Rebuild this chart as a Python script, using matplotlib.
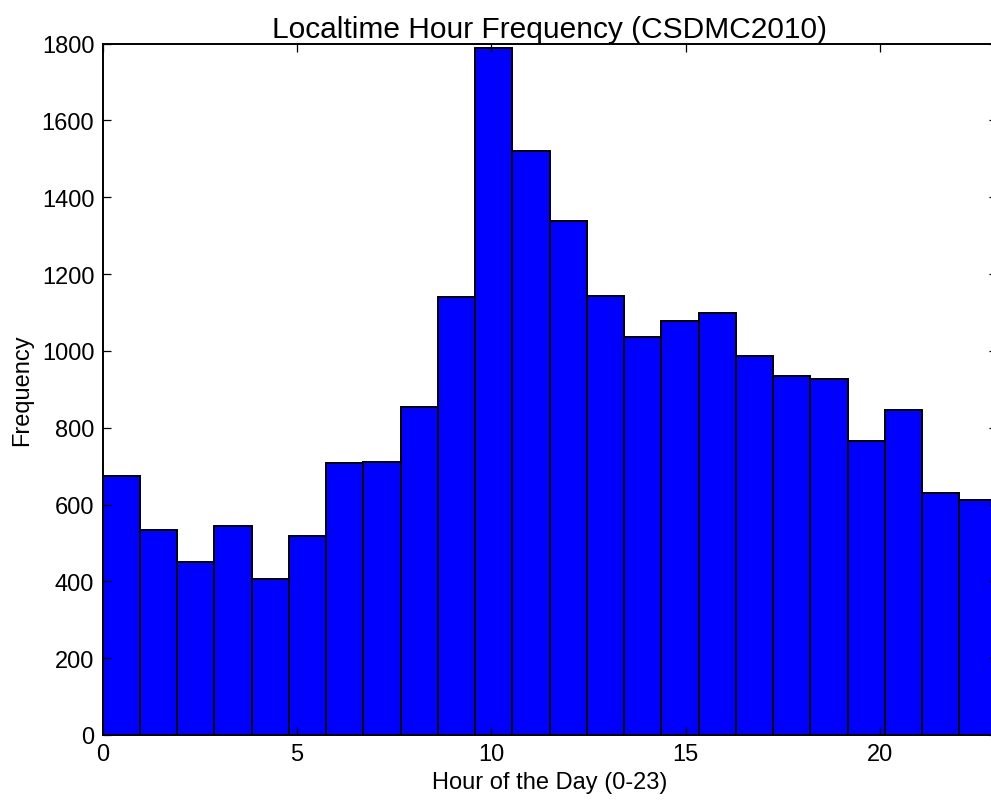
import numpy as np
import matplotlib
matplotlib.use("Agg")
import matplotlib.pyplot as plt

plt.rcParams["font.family"] = ["Liberation Sans", "DejaVu Sans"]

# counts per bin (24 bins spanning 0..23 hours)
counts = [674, 534, 451, 545, 406, 518, 708, 710, 854, 1140, 1789, 1520,
          1337, 1142, 1037, 1078, 1099, 987, 935, 927, 766, 845, 630, 612]
hour_min, hour_max = 0, 23
xticks = [0, 5, 10, 15, 20]
yticks = list(range(0, 2000, 200))

W, H = 991, 804
fig = plt.figure(figsize=(W / 100, H / 100), dpi=100)
ax = fig.add_axes([102.7 / W, (H - 736) / H, 894 / W, 691.4 / H])

edges = np.linspace(hour_min, hour_max, len(counts) + 1)
ax.bar(edges[:-1], counts, width=np.diff(edges), align="edge",
       color="#0000ff", edgecolor="black", linewidth=1.4)

ax.set_xlim(hour_min, hour_max)
ax.set_ylim(0, 1800)
ax.set_xticks(xticks)
ax.set_yticks(yticks)
ax.tick_params(direction="in", length=6, width=0.9, labelsize=17,
               top=True, right=True, pad=6)
for s in ax.spines.values():
    s.set_linewidth(1.4)

ax.set_title("Localtime Hour Frequency (CSDMC2010)", fontsize=21.5, pad=5)
ax.set_xlabel("Hour of the Day (0-23)", fontsize=17, labelpad=4)
ax.set_ylabel("Frequency", fontsize=17, labelpad=6)

fig.savefig("out.png", dpi=100)
